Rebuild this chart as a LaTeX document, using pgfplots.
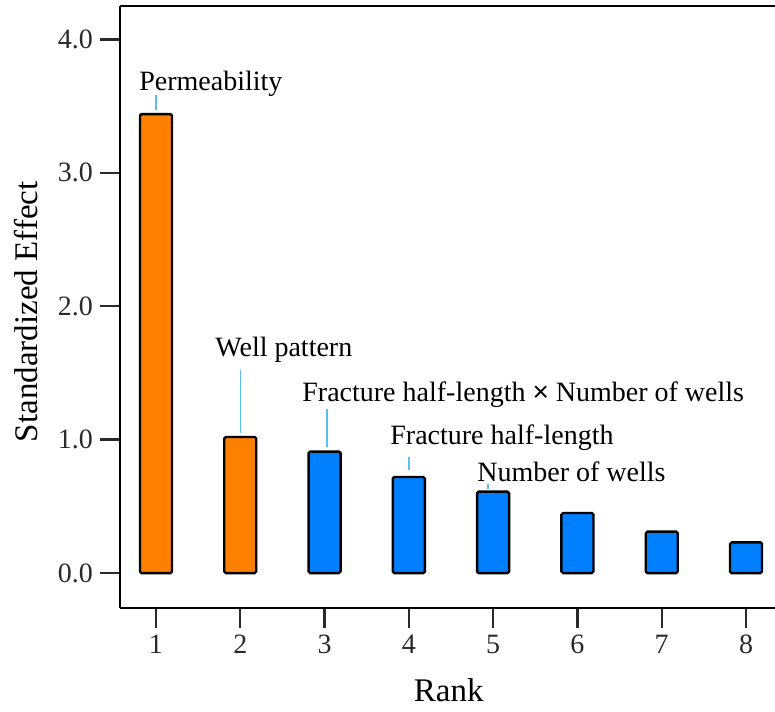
\documentclass[border=0pt]{standalone}
\usepackage{pgfplots}
\pgfplotsset{compat=1.18}
\usepackage{fontspec}
\setmainfont{Liberation Serif}

\definecolor{barorange}{HTML}{FF8000}
\definecolor{barblue}{HTML}{0080FF}
\definecolor{leader}{HTML}{5BBDE8}
\definecolor{ticklab}{HTML}{2A2A2A}

\begin{document}
\begin{tikzpicture}
\begin{axis}[
  width=327.5pt, height=301pt, scale only axis,
  xmin=0.573, xmax=8.344,
  ymin=-0.262, ymax=4.25,
  axis x line*=bottom, axis y line*=left,
  axis line style={line width=1.3pt, black},
  tick align=outside,
  major tick length=10pt,
  tick style={line width=1.2pt, ticklab},
  xtick={1,2,3,4,5,6,7,8},
  ytick={0,1,2,3,4},
  /pgf/number format/assume math mode=true,
  yticklabel style={/pgf/number format/.cd, fixed, fixed zerofill, precision=1},
  ticklabel style={font=\fontsize{14}{16}\selectfont, text=ticklab},
  xlabel={Rank}, ylabel={Standardized Effect},
  label style={font=\fontsize{16.5}{18}\selectfont},
  xlabel style={at={(axis description cs:0.502,-0.156)}, anchor=base},
  ylabel style={at={(axis description cs:-0.1267,0.492)}, anchor=base, rotate=0},
  clip=false,
]
% Main effects ranked by size
\addplot[ybar, bar width=0.38, fill=barorange, draw=black, line width=1.2pt, rounded corners=0.8pt]
  coordinates {(1,3.44) (2,1.02)};
\addplot[ybar, bar width=0.38, fill=barblue, draw=black, line width=1.2pt, rounded corners=0.8pt]
  coordinates {(3,0.91) (4,0.72) (5,0.61) (6,0.45) (7,0.31) (8,0.23)};

% Closing line along the top
\draw[line width=1.3pt, black] (rel axis cs:0,1) -- (rel axis cs:1,1);

% Factor names with leader lines
\begin{scope}[every node/.style={font=\fontsize{14}{16}\selectfont, anchor=base west, inner sep=0pt}]
\draw[leader, line width=0.7pt] (axis cs:1,3.47) -- (axis cs:1,3.58);
\node at (axis cs:0.798,3.62) {Permeability};
\draw[leader, line width=0.7pt] (axis cs:2,1.05) -- (axis cs:2,1.52);
\node at (axis cs:1.70,1.62) {Well pattern};
\draw[leader, line width=0.7pt] (axis cs:3.03,0.946) -- (axis cs:3.03,1.23);
\node at (axis cs:2.732,1.283) {Fracture half-length {\fontspec{Liberation Sans}×} Number of wells};
\draw[leader, line width=0.7pt] (axis cs:4,0.774) -- (axis cs:4,0.871);
\node at (axis cs:3.776,0.961) {Fracture half-length};
\draw[leader, line width=0.7pt] (axis cs:4.94,0.632) -- (axis cs:4.94,0.669);
\node at (axis cs:4.808,0.684) {Number of wells};
\end{scope}

\coordinate (bbsw) at (rel axis cs:-0.1832,-0.1711);
\coordinate (bbne) at (rel axis cs:1.0,1.00997);
\end{axis}
\pgfresetboundingbox
\path (bbsw) rectangle (bbne);
\end{tikzpicture}
\end{document}
